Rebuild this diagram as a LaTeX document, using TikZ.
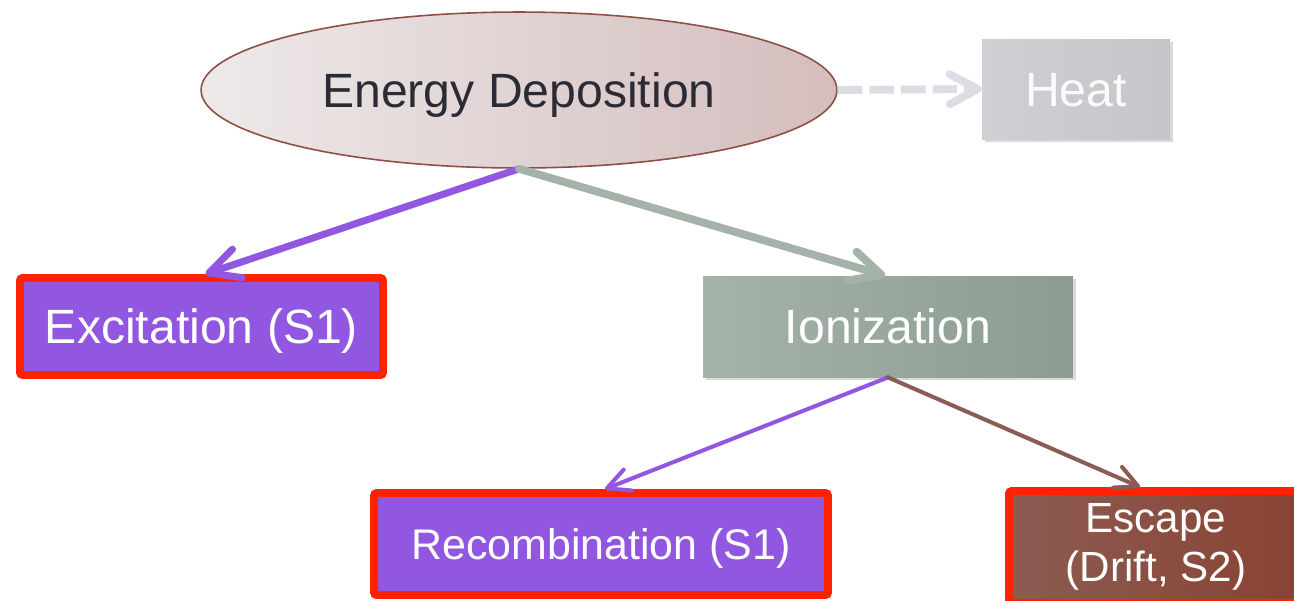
\documentclass[tikz,border=0pt]{standalone}
\usepackage{fontspec}
\setmainfont{Liberation Sans}
\usetikzlibrary{arrows.meta, positioning, shapes.geometric, shadows, calc}

\definecolor{violetfill}{HTML}{9157E1}
\definecolor{redline}{HTML}{FF2200}
\definecolor{sageleft}{HTML}{A5B2AA}
\definecolor{sageright}{HTML}{8C9C92}
\definecolor{brownleft}{HTML}{8B5C53}
\definecolor{brownright}{HTML}{8A4232}
\definecolor{heatfill}{HTML}{CFCFD4}
\definecolor{heatline}{HTML}{DCDCE4}
\definecolor{ellleft}{HTML}{EEE9E9}
\definecolor{ellright}{HTML}{D4BDBD}
\definecolor{ellline}{HTML}{8E4E44}
\definecolor{darktext}{HTML}{2B2B36}

\begin{document}
\begin{tikzpicture}[
    x=0.02cm, y=-0.02cm,
    bigfont/.style={font=\fontsize{27.4}{32}\selectfont},
    capline/.style={text height=#1, text depth=0pt},
    capline/.default=19.6pt,
    box/.style={rectangle, inner sep=0pt, text=white, bigfont, align=center,
        drop shadow={shadow xshift=1.8pt, shadow yshift=-1.8pt, opacity=0.3}},
    redbox/.style={box, draw=redline, line width=4.5pt, rounded corners=1.5pt},
    arrow/.style={line cap=round, line join=round, -{Straight Barb[length=0.6cm, width=0.6cm, round]}},
    thinarrow/.style={line cap=round, line join=round, line width=2.3pt, -{Straight Barb[length=0.45cm, width=0.45cm, round]}}
]
\useasboundingbox (0,0) rectangle (1294,600);
\clip (0,0) rectangle (1294,600);

% top row
\node[ellipse, draw=ellline, line width=0.9pt, left color=ellleft, right color=ellright,
    minimum width=12.72cm, minimum height=3.12cm, inner sep=0pt, text=darktext, bigfont, capline] (energy) at (519,90) {Energy Deposition};
\node[box, capline, left color=heatfill, right color=heatfill!95!black, text=white!92!heatfill,
    minimum width=3.76cm, minimum height=2cm] (heat) at (1076,89) {Heat};

% middle row
\node[redbox, capline, fill=violetfill, minimum width=7.26cm, minimum height=1.94cm] (excit) at (201.5,326.5) {Excitation (S1)};
\node[box, capline, left color=sageleft, right color=sageright, minimum width=7.4cm, minimum height=2.02cm] (ion) at (888,326.5) {Ionization};

% bottom row
\node[redbox, capline=17.5pt, fill=violetfill, minimum width=9.08cm, minimum height=2.04cm,
    font=\fontsize{24.4}{28}\selectfont] (recomb) at (601,544) {Recombination (S1)};
\node[redbox, left color=brownleft, right color=brownright, minimum width=5.88cm, minimum height=2.24cm,
    font=\fontsize{24}{27.9}\selectfont] (escape) at (1156,547) {Escape\\(Drift, S2)};

% connectors
\draw[line width=4.5pt, heatline, dash pattern=on 14pt off 4pt, -{Straight Barb[length=0.56cm, width=0.6cm, round]}] (energy.east) -- (heat.west);
\draw[arrow, line width=4pt, violetfill] (energy.south) -- ([xshift=0.08cm]excit.north);
\draw[arrow, line width=4.5pt, sageleft] (energy.south) -- ([xshift=-0.06cm]ion.north);
\draw[thinarrow, violetfill] (ion.south) -- ([xshift=0.08cm]recomb.north);
\draw[thinarrow, brownleft] (ion.south) -- ([xshift=-0.32cm]escape.north);
\end{tikzpicture}
\end{document}
